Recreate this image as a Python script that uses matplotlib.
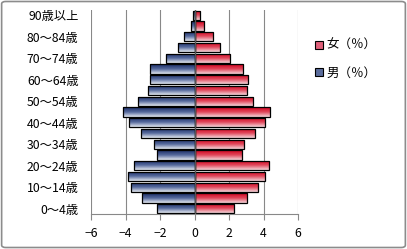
import matplotlib
matplotlib.use("Agg")
import matplotlib.pyplot as plt
from matplotlib.patches import FancyBboxPatch, Patch
from matplotlib.colors import LinearSegmentedColormap
import numpy as np

plt.rcParams['font.family'] = ['Noto Sans CJK JP', 'DejaVu Sans']

# age groups, bottom to top
ages = ['0～4歳', '5～9歳', '10～14歳', '15～19歳', '20～24歳', '25～29歳', '30～34歳',
        '35～39歳', '40～44歳', '45～49歳', '50～54歳', '55～59歳', '60～64歳',
        '65～69歳', '70～74歳', '75～79歳', '80～84歳', '85～89歳', '90歳以上']
male = [-2.2, -3.07, -3.71, -3.88, -3.51, -2.2, -2.36, -3.13, -3.77, -4.12,
        -3.25, -2.7, -2.59, -2.59, -1.66, -0.96, -0.58, -0.2, -0.1]
female = [2.29, 3.04, 3.7, 4.1, 4.31, 2.76, 2.88, 3.53, 4.1, 4.38,
          3.4, 3.07, 3.13, 2.83, 2.08, 1.45, 1.1, 0.55, 0.29]

fig = plt.figure(figsize=(4.07, 2.49), dpi=100)
frame = FancyBboxPatch((0.004, 0.006), 0.992, 0.988, boxstyle="round,pad=0,rounding_size=0.01",
                       transform=fig.transFigure, fc='none', ec='#8c8c8c', lw=1.2, zorder=10)
fig.patches.append(frame)

ax = fig.add_axes([91/407, 1 - 214/249, 207/407, 204/249])
y = np.arange(len(ages))

# dark at top of each bar, pale at the bottom
red_cm = LinearSegmentedColormap.from_list('r', ['#d0001c', '#e0485c', '#f5d8dc'])
blue_cm = LinearSegmentedColormap.from_list('b', ['#1a2c66', '#55699c', '#e6eaf2'])
grad = np.linspace(0, 1, 64).reshape(-1, 1)

def grad_bars(vals, cmap):
    bars = ax.barh(y, vals, height=0.86, color='none', edgecolor='black', lw=0.9, zorder=3)
    for b in bars:
        x0, y0 = b.get_x(), b.get_y()
        w, h = b.get_width(), b.get_height()
        im = ax.imshow(grad, cmap=cmap, aspect='auto', extent=[x0, x0 + w, y0, y0 + h],
                       origin='upper', zorder=2, interpolation='bilinear')
        im.set_clip_path(b)
    return bars

grad_bars(female, red_cm)
grad_bars(male, blue_cm)

ax.set_xlim(-6, 6)
ax.set_ylim(-0.5, len(ages) - 0.5)
ax.set_xticks(range(-6, 7, 2))
ax.set_yticks(y[::2])
ax.set_yticklabels(ages[::2])
ax.tick_params(axis='y', length=0, pad=9, labelsize=8.8)
ax.tick_params(axis='x', length=4, color='#888888', labelsize=8.8, pad=5, direction='out')
ax.grid(axis='x', color='#888888', lw=0.8, zorder=0)
ax.axvline(0, color='#555555', lw=1, zorder=4)
for s in ['top', 'right', 'left']:
    ax.spines[s].set_visible(False)
ax.spines['bottom'].set_color('#888888')

handles = [Patch(fc='#e0607a', ec='black', lw=0.8), Patch(fc='#5a6c9c', ec='black', lw=0.8)]
fig.legend(handles, ['女（％）', '男（％）'], loc='upper left', bbox_to_anchor=(309/407, 1 - 33/249),
           frameon=False, fontsize=9, handlelength=0.6, handleheight=0.6, handletextpad=0.3,
           labelspacing=1.15, borderpad=0)

fig.savefig('out.png', dpi=100)
